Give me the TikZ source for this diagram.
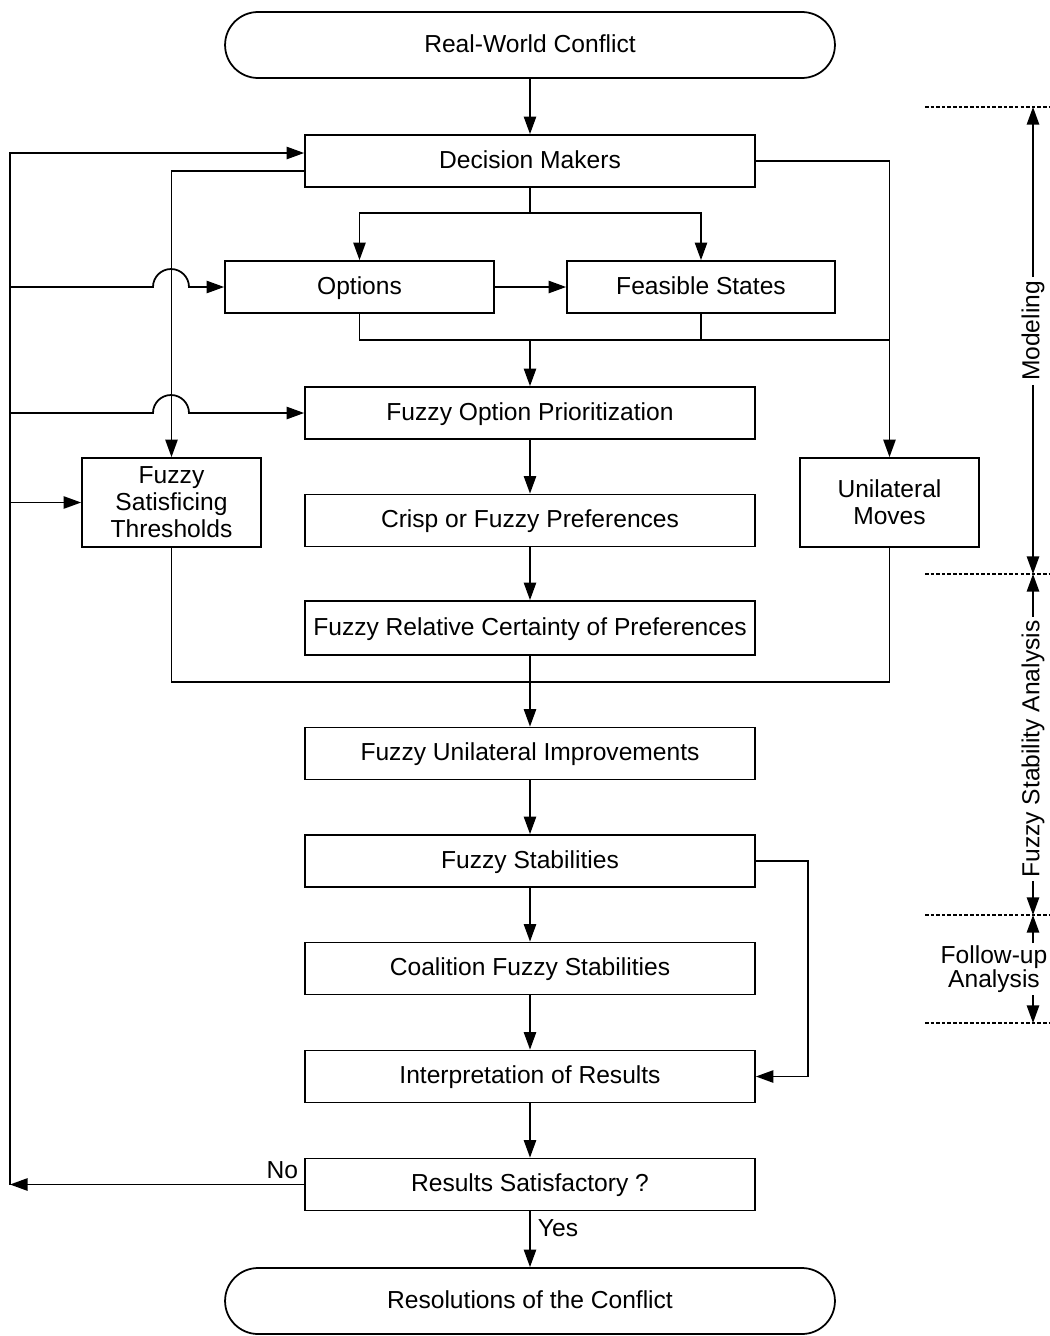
\documentclass[tikz,border=0pt]{standalone}
\usepackage{fontspec}
\setmainfont{Liberation Sans}
\usetikzlibrary{arrows.meta,calc}
\begin{document}
\begin{tikzpicture}[x=0.02cm,y=-0.02cm,
  txt/.style={font=\fontsize{14}{15.3}\selectfont},
  box/.style={draw,txt,line width=1pt,minimum height=1.04cm,inner sep=0pt,align=center},
  oneline/.style={box,text height=10pt,text depth=1.8pt},
  wide/.style={oneline,minimum width=9cm},
  side/.style={box,minimum width=3.58cm,minimum height=1.78cm},
  term/.style={oneline,minimum width=12.2cm,minimum height=1.32cm,rounded corners=0.66cm},
  arr/.style={-{Triangle[length=10pt,width=7pt]},line width=1pt},
  ln/.style={line width=1pt},
  dotline/.style={line width=0.9pt,dash pattern=on 2pt off 1.2pt}]
\useasboundingbox (0,0) rectangle (1050,1336);

% nodes
\node[term] (rwc) at (530,45) {Real-World Conflict};
\node[wide] (dm) at (530,161) {Decision Makers};
\node[oneline,minimum width=5.38cm] (opt) at (359.5,287) {Options};
\node[oneline,minimum width=5.36cm] (fs) at (701,287) {Feasible States};
\node[wide] (fop) at (530,413) {Fuzzy Option Prioritization};
\node[side] (fst) at (171.5,502.5) {Fuzzy\\Satisficing\\Thresholds};
\node[wide] (cfp) at (530,520.5) {Crisp or Fuzzy Preferences};
\node[side] (um) at (889.5,502.5) {Unilateral\\Moves};
\node[wide,minimum height=1.08cm] (frc) at (530,628) {Fuzzy Relative Certainty of Preferences};
\node[wide] (fui) at (530,753.5) {Fuzzy Unilateral Improvements};
\node[wide] (fstab) at (530,861) {Fuzzy Stabilities};
\node[wide] (cfs) at (530,968.5) {Coalition Fuzzy Stabilities};
\node[wide] (ir) at (530,1076.5) {Interpretation of Results};
\node[wide] (rs) at (530,1184.5) {Results Satisfactory ?};
\node[term] (res) at (530,1301) {Resolutions of the Conflict};

% coordinates
\coordinate (lft) at (10,1184.5);
\coordinate (s1) at (530,213);
\coordinate (j1) at (530,340);
\coordinate (j2) at (530,682);
\coordinate (rt) at (808,861);

% main flow
\draw[arr] (rwc) -- (dm);
\draw[ln] (dm.south) -- (s1);
\draw[arr] (s1) -| (opt.north);
\draw[arr] (s1) -| (fs.north);
\draw[arr] (opt) -- (fs);
\draw[ln] (opt.south) |- (j1) -- (j1 -| um.north);
\draw[ln] (fs.south) -- (fs.south |- j1);
\draw[arr] (j1) -- (fop.north);
\draw[arr] (dm.east) -| (um.north);
\draw[arr] ([yshift=-0.2cm]dm.west) -| (fst.north);
\draw[arr] (fop) -- (cfp);
\draw[arr] (cfp) -- (frc);
\draw[ln] (fst.south) |- (j2) -| (um.south);
\draw[arr] (frc.south) -- (fui.north);
\draw[arr] (fui) -- (fstab);
\draw[arr] (fstab) -- (cfs);
\draw[arr] (cfs) -- (ir);
\draw[arr] (ir) -- (rs);
\draw[arr] (fstab.east) -- (rt) |- (ir.east);
\draw[arr] (rs) -- node[txt,pos=0.3,right,inner sep=4pt] {Yes} (res);

% feedback
\draw[arr] (rs.west) -- node[txt,pos=0,above left,inner sep=3pt] {No} (lft);
\draw[arr] (lft) |- ([yshift=0.16cm]dm.west);
\draw[arr] (lft |- opt.west) -- ++(143,0) arc[start angle=180,end angle=0,radius=0.36cm] -- (opt.west);
\draw[arr] (lft |- fop.west) -- ++(143,0) arc[start angle=180,end angle=0,radius=0.36cm] -- (fop.west);
\draw[arr] (lft |- fst.west) -- (fst.west);

% phase annotations
\draw[dotline] (925,107) -- (1050,107);
\draw[dotline] (925,574) -- (1050,574);
\draw[dotline] (925,915) -- (1050,915);
\draw[dotline] (925,1023) -- (1050,1023);

\coordinate (m1) at (1033,107);
\coordinate (m2) at (1033,574);
\coordinate (m3) at (1033,915);
\coordinate (m4) at (1033,1023);
\coordinate (m5) at (1033,943);
\coordinate (m6) at (1033,995);

\node[txt,rotate=90,inner sep=2pt] (modl) at (1033,331) {Modeling};
\draw[arr] (modl.east) -- (m1);
\draw[arr] (modl.west) -- (m2);
\node[txt,rotate=90,inner sep=2pt] (fsal) at (1033,749) {Fuzzy Stability Analysis};
\draw[arr] (fsal.east) -- (m2);
\draw[arr] (fsal.west) -- (m3);
\node[font=\fontsize{14}{13.6}\selectfont,align=center,inner sep=1pt] (fual) at (994,969) {Follow-up\\Analysis};
\draw[arr] (m5) -- (m3);
\draw[arr] (m6) -- (m4);
\end{tikzpicture}
\end{document}
